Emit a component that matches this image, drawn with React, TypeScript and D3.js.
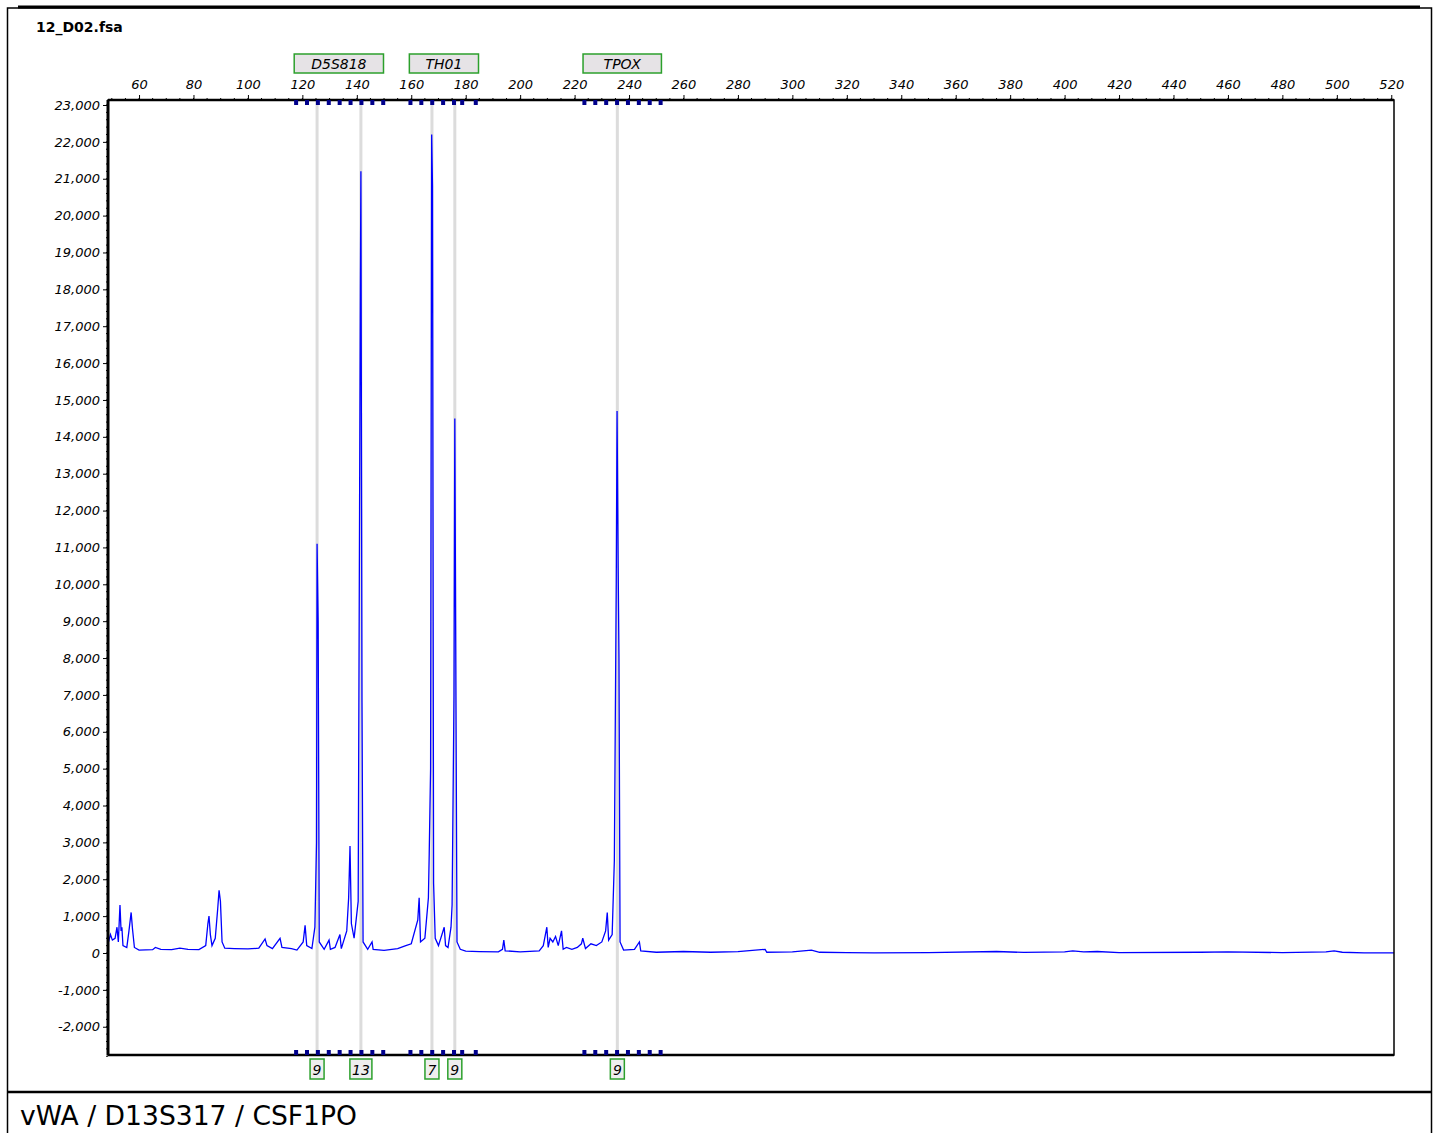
import { useEffect, useRef } from 'react'
import * as d3 from 'd3'

// trace points [size bp, RFU]
const trace: [number, number][] = [
  [48.8, 300], [49.5, 500], [50.2, 350], [51.2, 400], [51.9, 700], [52.4, 300], [53.0, 1300], [53.4, 600], [53.7, 700], [54.1, 200],
  [55.5, 150], [56.3, 600], [57.1, 1100], [57.6, 650], [58.3, 150], [60, 80], [65, 90], [66, 150], [68, 100], [72, 90], [75, 130],
  [78, 100], [82, 90], [84.5, 200], [85.3, 800], [85.7, 1000], [86.2, 500], [86.8, 200], [88, 400], [88.9, 1200], [89.4, 1700],
  [89.9, 1400], [90.5, 300], [91.5, 130], [95, 120], [100, 110], [104, 130], [106.3, 380], [107, 200], [109, 120], [111.8, 400],
  [112.5, 150], [116, 120], [118, 80], [120.3, 300], [121, 750], [121.6, 200], [123.5, 120], [124.6, 700], [125.2, 3000],
  [125.4, 11100], [125.8, 9000], [126.2, 300], [128, 100], [129.8, 350], [130.3, 100], [132, 150], [133.8, 500], [134.3, 120],
  [136.3, 600], [137, 1500], [137.5, 2900], [138, 800], [139, 400], [140.5, 1400], [141.3, 18000], [141.5, 21200], [141.9, 6800],
  [142.3, 300], [144, 100], [145.6, 300], [146, 100], [150, 70], [155, 120], [158, 200], [160, 250], [162.4, 900], [162.9, 1500],
  [163.4, 300], [165, 400], [166.3, 1500], [166.6, 2700], [167.1, 5000], [167.5, 22200], [167.8, 20800], [168.2, 1900], [168.8, 400],
  [170, 200], [172.1, 700], [172.6, 200], [173.5, 150], [174.6, 700], [175, 1300], [175.7, 7000], [176.0, 14500], [176.3, 9000],
  [176.8, 300], [178, 100], [180, 50], [185, 40], [192, 30], [193.5, 100], [194, 350], [194.5, 60], [200, 30], [207, 60], [208.5, 200],
  [209.8, 700], [210.3, 150], [211, 400], [212, 300], [213, 450], [214, 200], [215.2, 600], [215.8, 100], [217, 150], [219, 100],
  [221, 150], [222.5, 250], [223, 400], [224, 120], [226, 250], [228, 200], [230, 300], [231.4, 600], [232, 1100], [232.5, 350],
  [233.8, 500], [234.6, 2500], [235.3, 10000], [235.6, 14700], [236, 10500], [236.3, 8000], [236.7, 300], [238, 80], [242, 100],
  [243.8, 300], [244.3, 60], [250, 20], [260, 40], [270, 20], [280, 40], [290, 100], [290.6, 20], [300, 30], [307, 80], [310, 20],
  [320, 10], [330, 5], [350, 10], [375, 40], [385, 15], [400, 30], [403, 60], [407, 30], [412, 40], [420, 10], [450, 20], [460, 30],
  [480, 10], [496, 30], [499, 60], [502, 20], [510, 5], [521, 5],
]

const markers = [
  { name: 'D5S818', start: 117, end: 149.8, bins: [117.7, 121.7, 125.7, 129.7, 133.7, 137.7, 141.7, 145.7, 149.7] },
  { name: 'TH01', start: 159.3, end: 184.7, bins: [159.7, 163.7, 167.7, 171.7, 175.7, 178.7, 183.7] },
  { name: 'TPOX', start: 223.1, end: 251.9, bins: [223.6, 227.6, 231.6, 235.6, 239.6, 243.6, 247.6, 251.6] },
]

const calls = [
  { size: 125.4, label: '9' },
  { size: 141.5, label: '13' },
  { size: 167.6, label: '7' },
  { size: 176.0, label: '9' },
  { size: 235.7, label: '9' },
]

const xTicks = d3.range(60, 521, 20)
const yTicks = d3.range(-2000, 23001, 1000)

export default function App() {
  const ref = useRef<SVGSVGElement>(null)

  useEffect(() => {
    const svg = d3.select(ref.current)
    svg.selectAll('*').remove()
    const font = 'Tahoma, "DejaVu Sans", sans-serif'

    const left = 108, right = 1394, top = 100, bottom = 1055
    const x = d3.scaleLinear().domain([48.6, 521]).range([left, right])
    const y = d3.scaleLinear().domain([0, 23000]).range([953, 105])

    // frame
    svg.append('rect').attr('x', 7.5).attr('y', 8).attr('width', 1424).attr('height', 1140)
      .attr('fill', 'none').attr('stroke', '#000').attr('stroke-width', 1.5)
    svg.append('line').attr('x1', 18).attr('x2', 1420).attr('y1', 7).attr('y2', 7)
      .attr('stroke', '#000').attr('stroke-width', 3)
    svg.append('line').attr('x1', 7).attr('x2', 1432).attr('y1', 1092).attr('y2', 1092)
      .attr('stroke', '#000').attr('stroke-width', 2.5)

    svg.append('text').attr('x', 36).attr('y', 32).attr('font-family', font).attr('font-weight', 'bold')
      .attr('font-size', 14).text('12_D02.fsa')
    svg.append('text').attr('x', 20).attr('y', 1125).attr('font-family', font)
      .attr('font-size', 27).attr('textLength', 337).attr('lengthAdjust', 'spacingAndGlyphs')
      .text('vWA / D13S317 / CSF1PO')

    // grey call lines
    svg.selectAll('.call').data(calls).enter().append('line')
      .attr('x1', (d) => x(d.size)).attr('x2', (d) => x(d.size))
      .attr('y1', top).attr('y2', bottom).attr('stroke', '#dcdcdc').attr('stroke-width', 3)

    // trace
    const line = d3.line<[number, number]>().x((d) => x(d[0])).y((d) => y(d[1]))
    svg.append('path').attr('d', line(trace)).attr('fill', 'none').attr('stroke', '#0000ff').attr('stroke-width', 1.3)

    // plot box
    svg.append('rect').attr('x', left).attr('y', top).attr('width', right - left).attr('height', bottom - top)
      .attr('fill', 'none').attr('stroke', '#000').attr('stroke-width', 1.5)
    svg.append('line').attr('x1', left).attr('x2', left).attr('y1', top).attr('y2', bottom).attr('stroke', '#000').attr('stroke-width', 3)
    svg.append('line').attr('x1', left).attr('x2', right).attr('y1', top).attr('y2', top).attr('stroke', '#000').attr('stroke-width', 2.5)
    svg.append('line').attr('x1', left).attr('x2', right).attr('y1', bottom).attr('y2', bottom).attr('stroke', '#000').attr('stroke-width', 2.5)

    // y axis
    const yAxis = d3.axisLeft(y).tickValues(yTicks).tickSize(5)
      .tickFormat((d) => d3.format(',')(d as number).replace('\u2212', '-'))
    const ya = svg.append('g').attr('transform', `translate(${left},0)`).call(yAxis)
    ya.select('.domain').remove()
    ya.selectAll('text').attr('font-family', font).attr('font-style', 'italic').attr('font-size', 13).attr('fill', '#000')
    svg.append('g').selectAll('line').data(d3.range(-2800, 23001, 200)).enter().append('line')
      .attr('x1', left - 2).attr('x2', left).attr('y1', (d) => y(d)).attr('y2', (d) => y(d)).attr('stroke', '#000')

    // x axis on top
    const xAxis = d3.axisTop(x).tickValues(xTicks).tickSize(5)
    const xa = svg.append('g').attr('transform', `translate(0,${top})`).call(xAxis)
    xa.select('.domain').remove()
    xa.selectAll('text').attr('font-family', font).attr('font-style', 'italic').attr('font-size', 13).attr('fill', '#000')
      .attr('dy', '-3')
    svg.append('g').selectAll('line').data(d3.range(50, 521, 5)).enter().append('line')
      .attr('x1', (d) => x(d)).attr('x2', (d) => x(d)).attr('y1', top - 2).attr('y2', top).attr('stroke', '#000')

    // markers
    const mg = svg.append('g')
    markers.forEach((m) => {
      mg.append('rect').attr('x', x(m.start)).attr('y', 54).attr('width', x(m.end) - x(m.start)).attr('height', 19)
        .attr('fill', '#e6e3e6').attr('stroke', '#2ca02c').attr('stroke-width', 1.5)
      mg.append('text').attr('x', (x(m.start) + x(m.end)) / 2).attr('y', 69).attr('text-anchor', 'middle')
        .attr('font-family', font).attr('font-style', 'italic').attr('font-size', 14).text(m.name)
      ;[top, bottom - 5].forEach((yy) => {
        mg.selectAll(null).data(m.bins).enter().append('rect')
          .attr('x', (d) => x(d) - 2).attr('y', yy).attr('width', 4).attr('height', 5).attr('fill', '#00008b')
      })
    })

    // allele calls
    const cg = svg.append('g').selectAll('g').data(calls).enter().append('g')
      .attr('transform', (d) => `translate(${x(d.size)},0)`)
    cg.append('rect').attr('x', (d) => -(d.label.length * 8 + 4) / 2 - 1).attr('y', 1059)
      .attr('width', (d) => d.label.length * 8 + 6).attr('height', 20)
      .attr('fill', '#eeeeee').attr('stroke', '#2ca02c').attr('stroke-width', 1.5)
    cg.append('text').attr('y', 1075).attr('text-anchor', 'middle').attr('font-family', font)
      .attr('font-style', 'italic').attr('font-size', 14).text((d) => d.label)
  }, [])

  return (
    <svg ref={ref} width={1438} height={1133}
      style={{ position: 'fixed', left: 0, top: 0, background: '#fff' }} />
  )
}
